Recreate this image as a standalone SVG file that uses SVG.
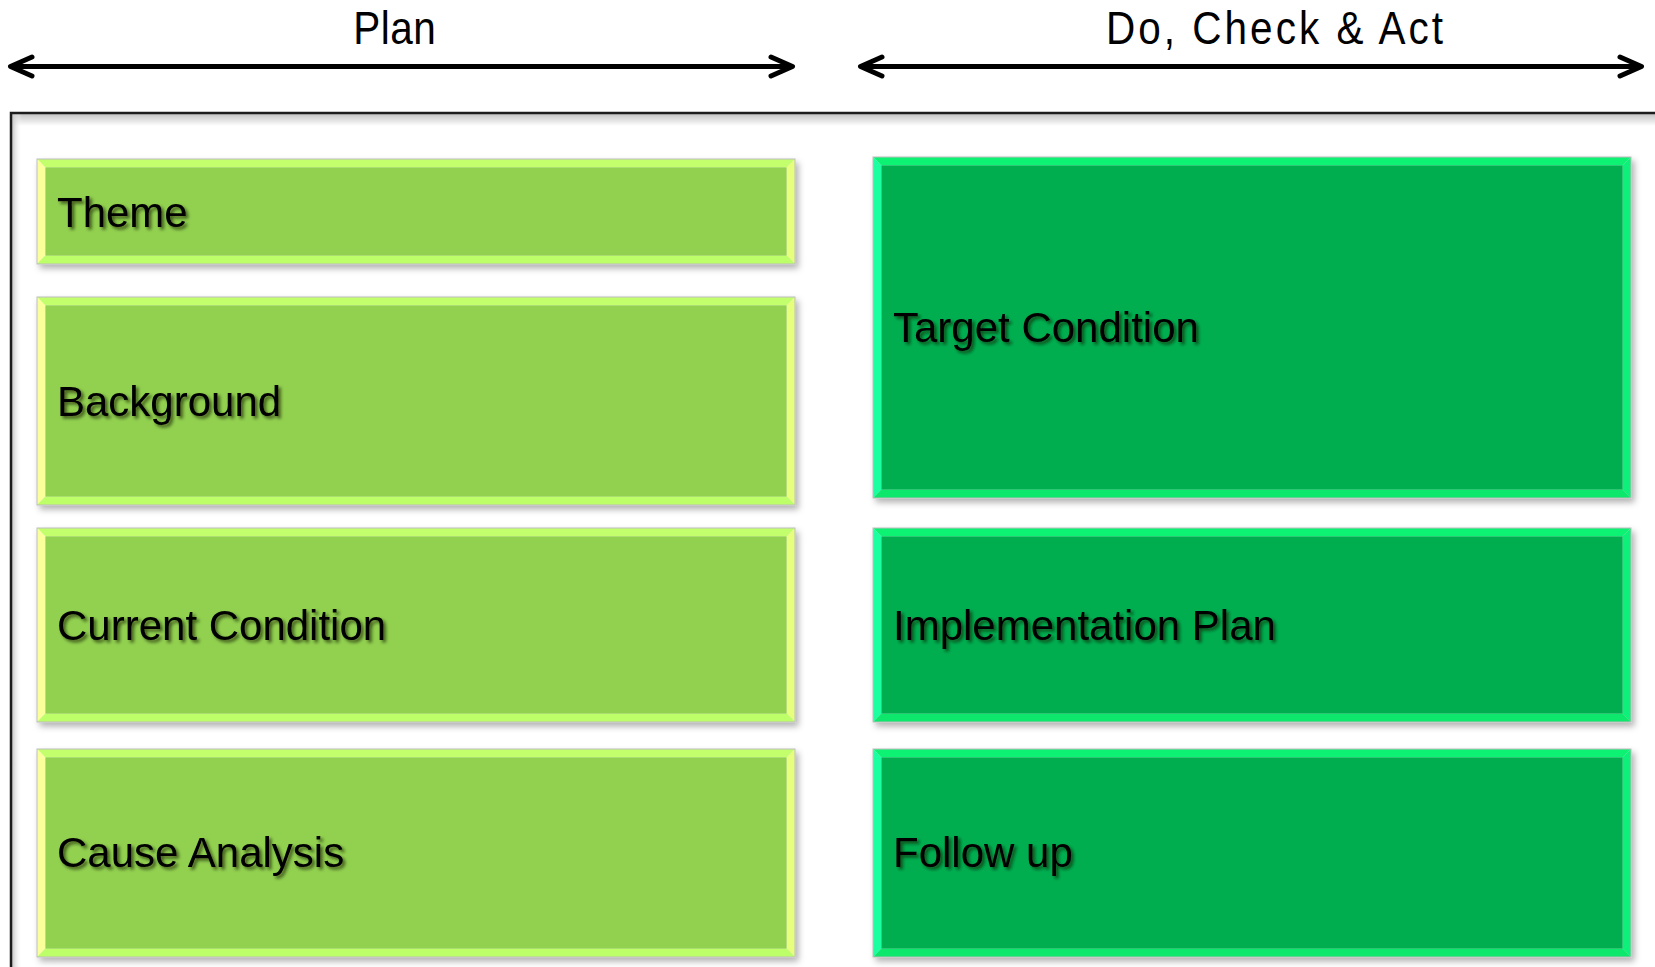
<svg xmlns="http://www.w3.org/2000/svg" width="1655" height="967" viewBox="0 0 1655 967">
  <style>
    .title { font-family: 'Liberation Sans', Arial, sans-serif; font-size: 46px; fill: #000; }
    .label { font-family: 'Liberation Sans', Arial, sans-serif; font-size: 42px; fill: #000; filter: url(#textShadow); }
    .span { fill: none; stroke: #000; stroke-width: 5; stroke-linecap: round; stroke-linejoin: round; }
    .edge { fill: none; stroke: #bdbdbd; stroke-width: 1; }
    .plan .face { fill: #92D050; }
    .plan .bt { fill: #C3FF6C; }
    .plan .bl { fill: #FAFF9C; }
    .plan .br { fill: #E6FF7D; }
    .plan .bb { fill: #BDFF68; }
    .act .face { fill: #00AE50; }
    .act .bt { fill: #0AF272; }
    .act .bl { fill: #1AFFA0; }
    .act .br { fill: #10F07A; }
    .act .bb { fill: #08E86C; }
  </style>
  <defs>
    <filter id="boxShadow" x="-5%" y="-10%" width="115%" height="130%">
      <feDropShadow dx="3" dy="4" stdDeviation="3" flood-color="#000" flood-opacity="0.3"/>
    </filter>
    <filter id="textShadow" x="-5%" y="-20%" width="115%" height="150%">
      <feDropShadow dx="2.5" dy="2.5" stdDeviation="1.5" flood-color="#0b1a00" flood-opacity="0.65"/>
    </filter>
    <linearGradient id="frameTop" x1="0" y1="0" x2="0" y2="1">
      <stop offset="0" stop-color="#c4c4c4"/>
      <stop offset="1" stop-color="#ffffff"/>
    </linearGradient>
    <linearGradient id="frameLeft" x1="0" y1="0" x2="1" y2="0">
      <stop offset="0" stop-color="#c4c4c4"/>
      <stop offset="1" stop-color="#ffffff" stop-opacity="0"/>
    </linearGradient>
  </defs>

  <rect width="1655" height="967" fill="#ffffff"/>

  <!-- outer frame with inner shading -->
  <g id="frame">
    <rect x="12" y="114" width="1660" height="12" fill="url(#frameTop)"/>
    <rect x="12" y="114" width="10" height="870" fill="url(#frameLeft)"/>
    <path d="M11 980 V113 H1670" fill="none" stroke="#1c1c1c" stroke-width="2.5"/>
  </g>

  <!-- phase headers (condensed lettering) -->
  <g id="header-plan">
    <text class="title" transform="translate(394.5,43.5) scale(0.88,1)" x="0" y="0" text-anchor="middle" textLength="94">Plan</text>
  </g>
  <g id="header-dca">
    <text class="title" transform="translate(1274.5,43.5) scale(0.88,1)" x="0" y="0" text-anchor="middle" textLength="383">Do, Check &amp; Act</text>
  </g>

  <g id="connectors">
    <path class="span" d="M12 66.5 H790 M32 57 L10.5 66.5 L32 76 M771 57 L792.5 66.5 L771 76"/>
    <path class="span" d="M862 66.5 H1639 M882 57 L860.5 66.5 L882 76 M1620 57 L1641.5 66.5 L1620 76"/>
  </g>

  <!-- Plan column -->
  <g id="theme" class="plan" filter="url(#boxShadow)">
    <polygon class="bt" points="37,159 795,159 786.5,167.5 45.5,167.5"/>
    <polygon class="bl" points="37,159 45.5,167.5 45.5,255.5 37,264"/>
    <polygon class="br" points="795,159 795,264 786.5,255.5 786.5,167.5"/>
    <polygon class="bb" points="37,264 45.5,255.5 786.5,255.5 795,264"/>
    <rect class="face" x="45.5" y="167.5" width="741" height="88"/>
    <rect class="edge" x="37" y="159" width="758" height="105"/>
  </g>
  <text class="label" x="57" y="227">Theme</text>

  <g id="background" class="plan" filter="url(#boxShadow)">
    <polygon class="bt" points="37,297 795,297 786.5,305.5 45.5,305.5"/>
    <polygon class="bl" points="37,297 45.5,305.5 45.5,496.5 37,505"/>
    <polygon class="br" points="795,297 795,505 786.5,496.5 786.5,305.5"/>
    <polygon class="bb" points="37,505 45.5,496.5 786.5,496.5 795,505"/>
    <rect class="face" x="45.5" y="305.5" width="741" height="191"/>
    <rect class="edge" x="37" y="297" width="758" height="208"/>
  </g>
  <text class="label" x="57" y="416">Background</text>

  <g id="current-condition" class="plan" filter="url(#boxShadow)">
    <polygon class="bt" points="37,528 795,528 786.5,536.5 45.5,536.5"/>
    <polygon class="bl" points="37,528 45.5,536.5 45.5,713.5 37,722"/>
    <polygon class="br" points="795,528 795,722 786.5,713.5 786.5,536.5"/>
    <polygon class="bb" points="37,722 45.5,713.5 786.5,713.5 795,722"/>
    <rect class="face" x="45.5" y="536.5" width="741" height="177"/>
    <rect class="edge" x="37" y="528" width="758" height="194"/>
  </g>
  <text class="label" x="57" y="640">Current Condition</text>

  <g id="cause-analysis" class="plan" filter="url(#boxShadow)">
    <polygon class="bt" points="37,749 795,749 786.5,757.5 45.5,757.5"/>
    <polygon class="bl" points="37,749 45.5,757.5 45.5,948.5 37,957"/>
    <polygon class="br" points="795,749 795,957 786.5,948.5 786.5,757.5"/>
    <polygon class="bb" points="37,957 45.5,948.5 786.5,948.5 795,957"/>
    <rect class="face" x="45.5" y="757.5" width="741" height="191"/>
    <rect class="edge" x="37" y="749" width="758" height="208"/>
  </g>
  <text class="label" x="57" y="867">Cause Analysis</text>

  <!-- Do, Check & Act column -->
  <g id="target-condition" class="act" filter="url(#boxShadow)">
    <polygon class="bt" points="873,157 1631,157 1622.5,165.5 881.5,165.5"/>
    <polygon class="bl" points="873,157 881.5,165.5 881.5,489.5 873,498"/>
    <polygon class="br" points="1631,157 1631,498 1622.5,489.5 1622.5,165.5"/>
    <polygon class="bb" points="873,498 881.5,489.5 1622.5,489.5 1631,498"/>
    <rect class="face" x="881.5" y="165.5" width="741" height="324"/>
    <rect class="edge" x="873" y="157" width="758" height="341"/>
  </g>
  <text class="label" x="893" y="342">Target Condition</text>

  <g id="implementation-plan" class="act" filter="url(#boxShadow)">
    <polygon class="bt" points="873,528 1631,528 1622.5,536.5 881.5,536.5"/>
    <polygon class="bl" points="873,528 881.5,536.5 881.5,713.5 873,722"/>
    <polygon class="br" points="1631,528 1631,722 1622.5,713.5 1622.5,536.5"/>
    <polygon class="bb" points="873,722 881.5,713.5 1622.5,713.5 1631,722"/>
    <rect class="face" x="881.5" y="536.5" width="741" height="177"/>
    <rect class="edge" x="873" y="528" width="758" height="194"/>
  </g>
  <text class="label" x="893" y="640">Implementation Plan</text>

  <g id="follow-up" class="act" filter="url(#boxShadow)">
    <polygon class="bt" points="873,749 1631,749 1622.5,757.5 881.5,757.5"/>
    <polygon class="bl" points="873,749 881.5,757.5 881.5,948.5 873,957"/>
    <polygon class="br" points="1631,749 1631,957 1622.5,948.5 1622.5,757.5"/>
    <polygon class="bb" points="873,957 881.5,948.5 1622.5,948.5 1631,957"/>
    <rect class="face" x="881.5" y="757.5" width="741" height="191"/>
    <rect class="edge" x="873" y="749" width="758" height="208"/>
  </g>
  <text class="label" x="893" y="867">Follow up</text>
</svg>
